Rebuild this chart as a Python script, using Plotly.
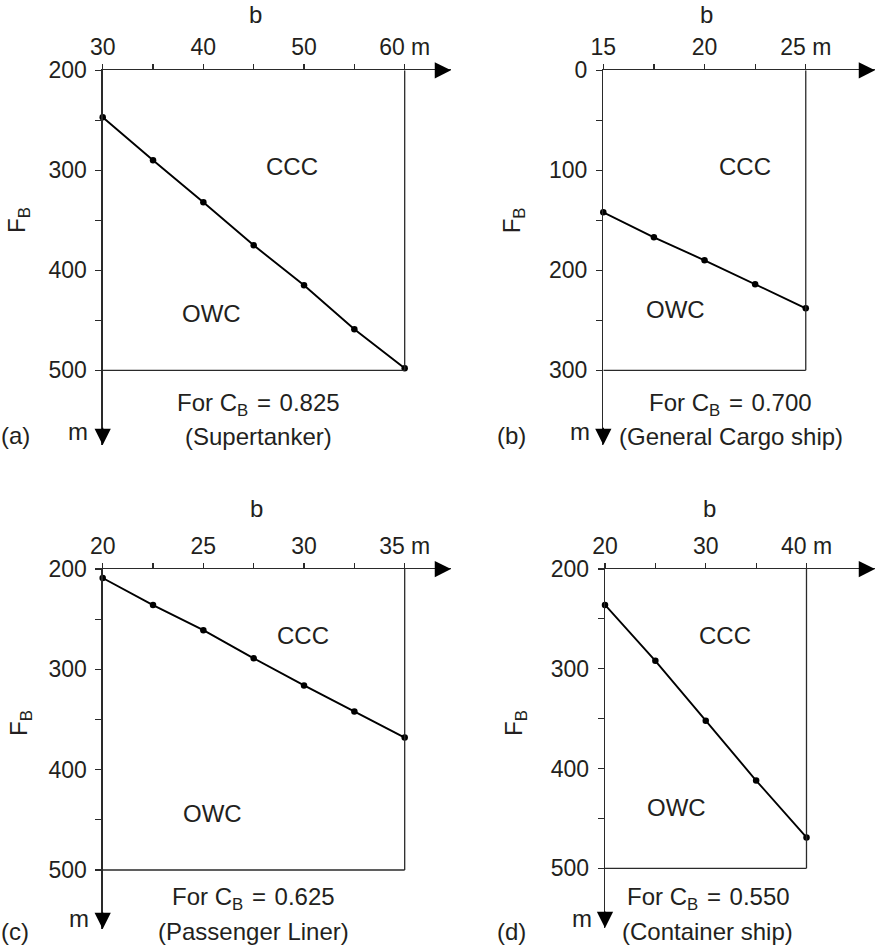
import plotly.graph_objects as go

W, H = 878, 949

# ---------------- data ----------------
a_b = [30, 35, 40, 45, 50, 55, 60]
a_F = [247, 290, 332, 375, 415, 459, 498]
b_b = [15, 17.5, 20, 22.5, 25]
b_F = [142, 167, 190, 214, 238]
c_b = [20, 22.5, 25, 27.5, 30, 32.5, 35]
c_F = [209, 236, 261, 289, 316, 342, 368]
d_b = [20, 25, 30, 35, 40]
d_F = [236, 292, 352, 412, 469]

a_xticks = [30, 35, 40, 45, 50, 55, 60]
a_xtext = ["30", "", "40", "", "50", "", "60 m"]
b_xticks = [15, 17.5, 20, 22.5, 25]
b_xtext = ["15", "", "20", "", "25 m"]
c_xticks = [20, 22.5, 25, 27.5, 30, 32.5, 35]
c_xtext = ["20", "", "25", "", "30", "", "35 m"]
d_xticks = [20, 25, 30, 35, 40]
d_xtext = ["20", "", "30", "", "40 m"]

a_yticks = [200, 250, 300, 350, 400, 450, 500]
a_ytext = ["200", "", "300", "", "400", "", "500"]
b_yticks = [0, 50, 100, 150, 200, 250, 300]
b_ytext = ["0", "", "100", "", "200", "", "300"]
c_yticks = a_yticks
c_ytext = a_ytext
d_yticks = a_yticks
d_ytext = a_ytext

cb_text = ["0.825", "0.700", "0.625", "0.550"]
ship_names = ["(Supertanker)", "(General Cargo ship)", "(Passenger Liner)", "(Container ship)"]
panel_labels = ["(a)", "(b)", "(c)", "(d)"]

# ---------------- layout config ----------------
FONT = "Liberation Sans, Arial, Helvetica, sans-serif"
TXT = "#231f20"
AX = "#2a2a2a"
FS = 23     # tick labels
FA = 24     # annotation texts

def fx(px):
    return px / W

def fy(py):
    return 1 - py / H

panels = [
    dict(b=a_b, F=a_F, xt=a_xticks, xtt=a_xtext, yt=a_yticks, ytt=a_ytext,
         xdom=[fx(102.7), fx(451)], ydom=[fy(445), fy(70.3)],
         xr=[30, 64.6], yr=[574.7, 200],
         ccc=(48.8, 296), owc=(40.85, 443), forpos=(258.3, 404), shippos=(258.3, 436.5),
         btitle=(255.3, 14), fb=(18, 220), plab=(15, 436), mlab=(78, 431)),
    dict(b=b_b, F=b_F, xt=b_xticks, xtt=b_xtext, yt=b_yticks, ytt=b_ytext,
         xdom=[fx(603.3), fx(875)], ydom=[fy(445), fy(70.3)],
         xr=[15, 28.42], yr=[374.7, 0],
         ccc=(22.0, 96), owc=(18.58, 239.5), forpos=(730, 404), shippos=(730.7, 436.5),
         btitle=(706.7, 14), fb=(513.3, 220), plab=(511.7, 436), mlab=(580, 431)),
    dict(b=c_b, F=c_F, xt=c_xticks, xtt=c_xtext, yt=c_yticks, ytt=c_ytext,
         xdom=[fx(102.7), fx(451)], ydom=[fy(929), fy(569)],
         xr=[20, 37.3], yr=[558.8, 200],
         ccc=(29.97, 266.5), owc=(25.43, 443.5), forpos=(253.3, 898.3), shippos=(253, 931.5),
         btitle=(256, 508.5), fb=(20, 723), plab=(15, 931), mlab=(79, 918)),
    dict(b=d_b, F=d_F, xt=d_xticks, xtt=d_xtext, yt=d_yticks, ytt=d_ytext,
         xdom=[fx(605), fx(875)], ydom=[fy(928), fy(569)],
         xr=[20, 46.8], yr=[559.8, 200],
         ccc=(31.9, 266.6), owc=(27.1, 439), forpos=(708, 898.3), shippos=(707.5, 931.5),
         btitle=(709.3, 508.5), fb=(515, 723), plab=(511.7, 931), mlab=(581.7, 918)),
]

fig = go.Figure()
layout = dict(
    template="none",
    width=W, height=H, margin=dict(l=0, r=0, t=0, b=0, pad=0), autosize=False,
    paper_bgcolor="white", plot_bgcolor="white", showlegend=False,
    font=dict(family=FONT, size=FS, color=TXT),
)
annotations = []
shapes = []

def txt(x, y, text, xref, yref, **kw):
    d = dict(x=x, y=y, xref=xref, yref=yref, text=text, showarrow=False,
             xanchor="center", yanchor="middle", font=dict(family=FONT, size=FA, color=TXT))
    d.update(kw)
    return d

for i, p in enumerate(panels):
    n = i + 1
    xn = "x" if n == 1 else f"x{n}"
    yn = "y" if n == 1 else f"y{n}"
    xk = "xaxis" if n == 1 else f"xaxis{n}"
    yk = "yaxis" if n == 1 else f"yaxis{n}"

    fig.add_trace(go.Scatter(
        x=p["b"], y=p["F"], xaxis=xn, yaxis=yn, mode="lines+markers",
        line=dict(color="black", width=1.9),
        marker=dict(color="black", size=6.5), cliponaxis=False,
        hoverinfo="skip"))

    layout[xk] = dict(
        domain=p["xdom"], range=p["xr"], anchor=yn, side="top", automargin=False,
        showline=True, linecolor=AX, linewidth=1.3,
        ticks="outside", ticklen=5, tickwidth=1.2, tickcolor=AX,
        tickvals=p["xt"], ticktext=p["xtt"], showgrid=False, zeroline=False,
        tickfont=dict(family=FONT, size=FS, color=TXT), ticklabelstandoff=0)
    layout[yk] = dict(
        domain=p["ydom"], range=p["yr"], anchor=xn, side="left", automargin=False,
        showline=True, linecolor=AX, linewidth=1.3,
        ticks="outside", ticklen=6, tickwidth=1.2, tickcolor=AX,
        tickvals=p["yt"], ticktext=p["ytt"], showgrid=False, zeroline=False,
        tickfont=dict(family=FONT, size=FS, color=TXT), ticklabelstandoff=4)

    xmin, xmax = p["xt"][0], p["xt"][-1]
    ymin, ymax = p["yt"][0], p["yt"][-1]
    # box: right and bottom edges
    shapes.append(dict(type="line", xref=xn, yref=yn, x0=xmax, x1=xmax, y0=ymin, y1=ymax,
                       line=dict(color=AX, width=1.3)))
    shapes.append(dict(type="line", xref=xn, yref=yn, x0=xmin, x1=xmax, y0=ymax, y1=ymax,
                       line=dict(color=AX, width=1.3)))

    # arrowheads at axis ends
    xend = p["xr"][1]
    yend = p["yr"][0]
    annotations.append(dict(x=xend, y=ymin, ax=xend - (xend - xmin) * 0.05, ay=ymin,
                            xref=xn, yref=yn, axref=xn, ayref=yn, text="",
                            showarrow=True, arrowhead=2, arrowsize=2.5, arrowwidth=1.3,
                            arrowcolor="black", standoff=0))
    annotations.append(dict(x=xmin, y=yend, ax=xmin, ay=yend - (yend - ymin) * 0.05,
                            xref=xn, yref=yn, axref=xn, ayref=yn, text="",
                            showarrow=True, arrowhead=2, arrowsize=2.5, arrowwidth=1.3,
                            arrowcolor="black", standoff=0))

    # region labels (data coords)
    annotations.append(txt(p["ccc"][0], p["ccc"][1], "CCC", xn, yn))
    annotations.append(txt(p["owc"][0], p["owc"][1], "OWC", xn, yn))

    # captions and outside texts (paper coords)
    annotations.append(txt(fx(p["forpos"][0]), fy(p["forpos"][1]),
                           f"For C<sub>B</sub> \u200a= \u200a{cb_text[i]}", "paper", "paper"))
    annotations.append(txt(fx(p["shippos"][0]), fy(p["shippos"][1]), ship_names[i], "paper", "paper"))
    annotations.append(txt(fx(p["btitle"][0]), fy(p["btitle"][1]), "b", "paper", "paper"))
    annotations.append(txt(fx(p["fb"][0]), fy(p["fb"][1]), "F<sub>B</sub>", "paper", "paper",
                           textangle=-90))
    annotations.append(txt(fx(p["plab"][0]), fy(p["plab"][1]), panel_labels[i], "paper", "paper"))
    annotations.append(txt(fx(p["mlab"][0]), fy(p["mlab"][1]), "m", "paper", "paper"))

layout["annotations"] = annotations
layout["shapes"] = shapes
fig.update_layout(**layout)
fig.write_html("out.html", config={"displayModeBar": False, "staticPlot": True},
               post_script="document.body.style.margin='0';document.body.style.overflow='hidden';")
